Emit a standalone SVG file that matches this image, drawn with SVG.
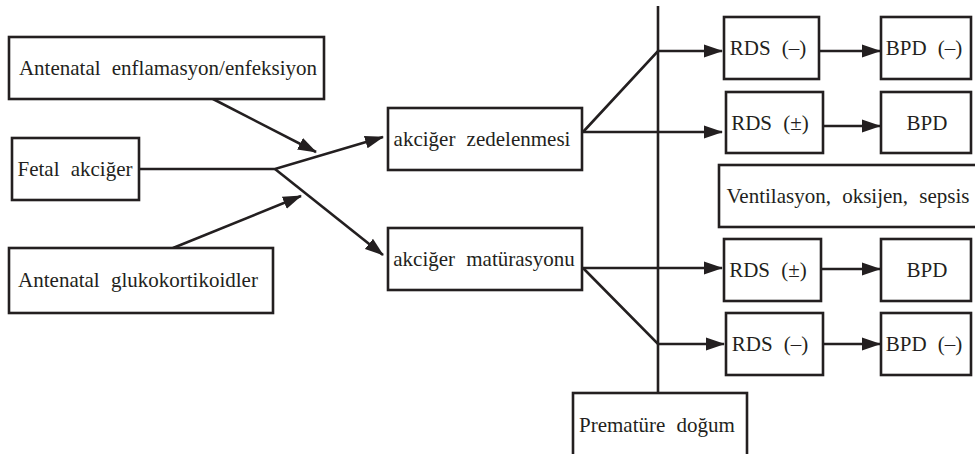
<svg xmlns="http://www.w3.org/2000/svg" width="975" height="454" viewBox="0 0 975 454">
<defs>
<marker id="arr" markerUnits="userSpaceOnUse" markerWidth="19" markerHeight="14" refX="18" refY="7" orient="auto">
<path d="M0,0.5 L19,7 L0,13.5 z" fill="#231f20"/>
</marker>
<style>
rect{fill:#fff;stroke:#231f20;stroke-width:2.6}
.c{fill:none;stroke:#231f20;stroke-width:2.6}
</style>
</defs>
<g id="connectors">
<line class="c" x1="658" y1="6" x2="658" y2="393"/>
<line class="c" x1="213" y1="99" x2="316" y2="152" marker-end="url(#arr)"/>
<polyline class="c" points="139,169 275,169 383,137" marker-end="url(#arr)"/>
<line class="c" x1="275" y1="169" x2="383" y2="255" marker-end="url(#arr)"/>
<line class="c" x1="173" y1="248" x2="301" y2="196" marker-end="url(#arr)"/>
<polyline class="c" points="583,132 658,51 722,51" marker-end="url(#arr)"/>
<line class="c" x1="583" y1="132" x2="722" y2="132" marker-end="url(#arr)"/>
<line class="c" x1="819" y1="51" x2="880" y2="51" marker-end="url(#arr)"/>
<line class="c" x1="823" y1="126" x2="880" y2="126" marker-end="url(#arr)"/>
<line class="c" x1="582" y1="268" x2="722" y2="268" marker-end="url(#arr)"/>
<polyline class="c" points="583,268 658,344 724,344" marker-end="url(#arr)"/>
<line class="c" x1="821" y1="269" x2="880" y2="269" marker-end="url(#arr)"/>
<line class="c" x1="823" y1="344" x2="880" y2="344" marker-end="url(#arr)"/>
</g>
<g id="n-enflamasyon"><rect x="9" y="37" width="315" height="62"/><text x="168" y="75" font-family="serif" font-size="21" fill="#231f20" text-anchor="middle" word-spacing="6">Antenatal enflamasyon/enfeksiyon</text></g>
<g id="n-fetal"><rect x="12" y="138" width="127" height="62"/><text x="75" y="176" font-family="serif" font-size="21" fill="#231f20" text-anchor="middle" word-spacing="6">Fetal akciğer</text></g>
<g id="n-glukokortikoid"><rect x="9" y="248" width="264" height="65"/><text x="138" y="287" font-family="serif" font-size="21" fill="#231f20" text-anchor="middle" word-spacing="6">Antenatal glukokortikoidler</text></g>
<g id="n-zedelenme"><rect x="388" y="108" width="194" height="62"/><text x="482" y="146" font-family="serif" font-size="21" fill="#231f20" text-anchor="middle" word-spacing="6">akciğer zedelenmesi</text></g>
<g id="n-maturasyon"><rect x="388" y="228" width="194" height="62"/><text x="484" y="266" font-family="serif" font-size="21" fill="#231f20" text-anchor="middle" word-spacing="6">akciğer matürasyonu</text></g>
<g id="n-rds1"><rect x="724" y="17" width="95" height="62"/><text x="768" y="55" font-family="serif" font-size="21" fill="#231f20" text-anchor="middle" word-spacing="6">RDS (–)</text></g>
<g id="n-bpd1"><rect x="881" y="17" width="90" height="62"/><text x="924" y="55" font-family="serif" font-size="21" fill="#231f20" text-anchor="middle" word-spacing="6">BPD (–)</text></g>
<g id="n-rds2"><rect x="726" y="92" width="97" height="61"/><text x="770" y="130" font-family="serif" font-size="21" fill="#231f20" text-anchor="middle" word-spacing="6">RDS (±)</text></g>
<g id="n-bpd2"><rect x="881" y="92" width="90" height="61"/><text x="927" y="130" font-family="serif" font-size="21" fill="#231f20" text-anchor="middle" word-spacing="6">BPD</text></g>
<g id="n-ventilasyon"><rect x="719" y="165" width="262" height="62"/><text x="848" y="203" font-family="serif" font-size="21" fill="#231f20" text-anchor="middle" word-spacing="6">Ventilasyon, oksijen, sepsis</text></g>
<g id="n-rds3"><rect x="724" y="239" width="97" height="62"/><text x="768" y="277" font-family="serif" font-size="21" fill="#231f20" text-anchor="middle" word-spacing="6">RDS (±)</text></g>
<g id="n-bpd3"><rect x="881" y="239" width="90" height="62"/><text x="927" y="277" font-family="serif" font-size="21" fill="#231f20" text-anchor="middle" word-spacing="6">BPD</text></g>
<g id="n-rds4"><rect x="726" y="313" width="97" height="62"/><text x="770" y="351" font-family="serif" font-size="21" fill="#231f20" text-anchor="middle" word-spacing="6">RDS (–)</text></g>
<g id="n-bpd4"><rect x="881" y="313" width="90" height="62"/><text x="924" y="351" font-family="serif" font-size="21" fill="#231f20" text-anchor="middle" word-spacing="6">BPD (–)</text></g>
<g id="n-premature"><rect x="573" y="393" width="174" height="66"/><text x="657" y="432" font-family="serif" font-size="21" fill="#231f20" text-anchor="middle" word-spacing="6">Prematüre doğum</text></g>
</svg>
